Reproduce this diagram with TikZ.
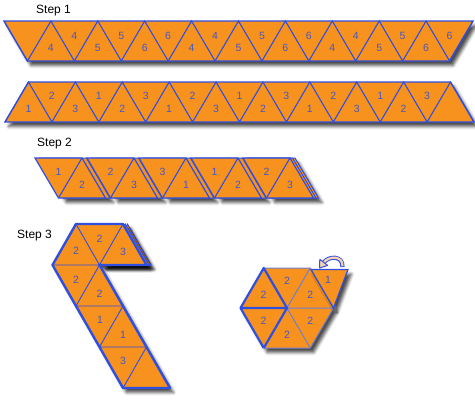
\documentclass[tikz,border=0pt]{standalone}
\usepackage{fontspec}
\setmainfont{Liberation Sans}
\usetikzlibrary{calc,shadows.blur}
\definecolor{arancio}{HTML}{F7921E}
\definecolor{blu}{HTML}{2E4FE0}
\definecolor{cifra}{HTML}{4457C4}
\definecolor{pesca}{HTML}{F6D3B0}
\definecolor{grigio}{HTML}{6F7FD0}

\begin{document}
\begin{tikzpicture}[x=1pt, y=-1pt,
  striscia/.style={fill=arancio, draw=blu, line width=1.3pt,
    blur shadow={shadow xshift=3.5pt, shadow yshift=-4.5pt, shadow blur radius=3pt, shadow opacity=70}},
  piano/.style={fill=arancio, draw=blu, line width=1.2pt},
  lato/.style={blu, line width=1.1pt},
  cifra/.style={font=\fontsize{10.5}{12}\selectfont, text=cifra, inner sep=0pt},
  titolo/.style={font=\fontsize{12}{14}\selectfont, anchor=base west, inner sep=0pt}]
  \useasboundingbox (0,0) rectangle (475,400);

  % Step 1, prima striscia
  \node[titolo] (step1) at (36,13.5) {Step 1};
  \path[striscia] (4,21) -- (473,21) -- (449.5,61) -- (27.4,61) -- cycle;
  \draw[lato] (4,21) \foreach \k in {0,...,9} { -- ({27.45+46.9*\k},61) -- ({50.9+46.9*\k},21) };
  \foreach \c [count=\k from 0] in {4,5,6,4,5,6,4,5,6}
    \node[cifra] (ua\k) at ({50.9+46.9*\k},47.7) {\c};
  \foreach \c [count=\k from 1] in {4,5,6,4,5,6,4,5,6}
    \node[cifra] (da\k) at ({27.45+46.9*\k},35.5) {\c};

  % Step 1, seconda striscia
  \path[striscia] (5,122) -- (474,122) -- (450.5,82) -- (28.45,82) -- cycle;
  \draw[lato] (5,122) \foreach \k in {0,...,9} { -- ({28.45+46.9*\k},82) -- ({51.9+46.9*\k},122) };
  \foreach \c [count=\k from 0] in {1,3,2,1,3,2,1,3,2}
    \node[cifra] (ub\k) at ({28.45+46.9*\k},108.7) {\c};
  \foreach \c [count=\k from 0] in {2,1,3,2,1,3,2,1,3}
    \node[cifra] (db\k) at ({51.9+46.9*\k},96) {\c};

  % Step 2, rombi piegati
  \node[titolo] (step2) at (37,146.5) {Step 2};
  \foreach \i/\a/\b in {0/1/2,1/2/3,2/3/1,3/1/2,4/2/3} {
    \pgfmathsetmacro{\xo}{35+52*\i}
    \ifnum\i=4
      \path[striscia, line width=1pt] ({\xo+5},158) -- +(47,0) -- +(70.5,40) -- +(23.5,40) -- cycle;
      \path[piano, line width=1pt] ({\xo+2.5},158) -- +(47,0) -- +(70.5,40) -- +(23.5,40) -- cycle;
    \else
      \path[striscia, line width=1pt] ({\xo+4.5},158) -- +(47,0) -- +(70.5,40) -- +(23.5,40) -- cycle;
    \fi
    \path[piano] (\xo,158) -- +(47,0) -- +(70.5,40) -- +(23.5,40) -- cycle;
    \draw[lato] ({\xo+47},158) -- ({\xo+23.5},198);
    \node[cifra] (dc\i) at ({\xo+23.5},172) {\a};
    \node[cifra] (uc\i) at ({\xo+47},185) {\b};
  }

  % Step 3
  \node[titolo] (step3) at (17,238.5) {Step 3};
  \coordinate (A) at (52.5,265);
  \coordinate (B) at (76,224);
  \coordinate (C) at (99.5,265);
  \coordinate (D) at (123,224);
  \coordinate (E) at (146.5,265);
  \coordinate (F) at (76,306);
  \coordinate (G) at (123,306);
  \coordinate (H) at (99.5,347);
  \coordinate (I) at (146.5,347);
  \coordinate (J) at (123,388);
  \coordinate (K) at (170,388);

  % sagoma con ombra
  \path[striscia] (A) -- (B) -- (D) -- (E) -- (C) -- (G) -- (I) -- (K) -- (J) -- (H) -- (F) -- cycle;
  % strati sotto il 3
  \foreach \d in {4.5,2.3}
    \path[striscia, line width=0.9pt] ($(C)+(\d,0)$) -- ($(D)+(\d,0)$) -- ($(E)+(\d,0)$) -- cycle;
  \fill[arancio] (C) -- (D) -- (E) -- cycle;
  % lati interni
  \draw[lato, line width=0.9pt] (B) -- (C) -- (D) (A) -- (C) -- (F) -- (G) -- (H) -- (I) -- (J);
  % bordo spesso
  \draw[blu, line width=2.4pt, line join=round]
    (A) -- (B) -- (D) -- (E) -- (C) -- (G) -- (I) -- (K) -- (J) -- (H) -- (F) -- cycle;
  \draw[blu, line width=2.4pt] (E) -- ($(E)+(4.5,0)$);
  \node[cifra] (s1) at (76,251) {2};
  \node[cifra] (s2) at (99.5,239) {2};
  \node[cifra] (s3) at (123,252) {3};
  \node[cifra] (s4) at (76,280) {2};
  \node[cifra] (s5) at (99.5,294) {2};
  \node[cifra] (s6) at (100,320) {1};
  \node[cifra] (s7) at (123,335) {1};
  \node[cifra] (s8) at (123,361) {3};

  % Esagono
  \coordinate (O) at (287,308);
  \coordinate (R) at (333.5,308);
  \coordinate (TR) at (310.25,268);
  \coordinate (TL) at (263.75,268);
  \coordinate (L) at (240.5,308);
  \coordinate (BL) at (263.75,348);
  \coordinate (BR) at (310.25,348);
  \path[striscia, draw=none] (R) -- (TR) -- (TL) -- (L) -- (BL) -- (BR) -- cycle;
  \draw[grigio, line width=1pt] (TL) -- (TR) -- (R) -- (BR) -- (BL) (TR) -- (O) -- (R) (O) -- (BR);
  \draw[blu, line width=2.2pt, line join=round] (BL) -- (L) -- (TL) -- (O) -- (BL) (L) -- (O);

  % triangolo da ripiegare
  \path[striscia, line width=1.2pt] (311,269.5) -- (348,269.5) -- (R) -- cycle;
  \node[cifra] (t1) at (328,280) {1};

  % freccia curva
  \draw[blu, line width=4.2pt] (342.5,267) .. controls (343,255) and (328.6,256) .. (323.75,262.4);
  \draw[pesca, line width=2.2pt] (342.5,266.2) .. controls (343,255) and (328.6,256) .. (323.75,262.4);
  \path[fill=pesca, draw=blu, line width=1pt, line join=round]
    (319.5,268) -- (327.7,265.4) -- (319.8,259.4) -- cycle;

  \node[cifra] (e1) at (263.5,294.7) {2};
  \node[cifra] (e2) at (287,281.3) {2};
  \node[cifra] (e3) at (310.2,294.7) {2};
  \node[cifra] (e4) at (263.5,321.3) {2};
  \node[cifra] (e5) at (287,334.7) {2};
  \node[cifra] (e6) at (310.2,321.3) {2};
\end{tikzpicture}
\end{document}
